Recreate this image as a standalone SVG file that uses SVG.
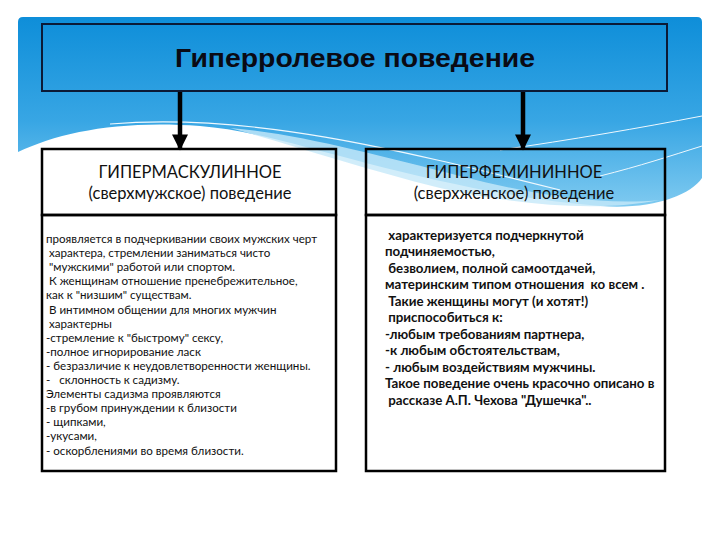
<svg xmlns="http://www.w3.org/2000/svg" width="720" height="540" viewBox="0 0 720 540">
<defs>
<linearGradient id="sky" x1="0" y1="0" x2="0" y2="1">
<stop offset="0" stop-color="#0e8ed9"/>
<stop offset="0.55" stop-color="#38a6e4"/>
<stop offset="1" stop-color="#7fcaf0"/>
</linearGradient>
<marker id="arr" viewBox="0 0 10 10" refX="9" refY="5" markerWidth="3.6" markerHeight="3.6" orient="auto" markerUnits="strokeWidth">
<path d="M0,0 L10,5 L0,10 Z" fill="#000"/>
</marker>
<style>
.box{fill:#fff;stroke:#000;stroke-width:2.5}
.hbox{fill:none;stroke:#000;stroke-width:2.5}
.title{font-family:"Liberation Sans",Arial,sans-serif;font-weight:bold;font-size:26px;fill:#0a0a14}
.head{font-family:"Lato","Open Sans",sans-serif;font-size:16.5px;fill:#111}
.lt{font-family:"Lato","Liberation Sans",sans-serif;font-size:11.6px;fill:#111}
.rt{font-family:"Lato","Liberation Sans",sans-serif;font-size:13.3px;font-weight:bold;fill:#111}
.conn{stroke:#000;stroke-width:4.5;fill:none}
</style>
</defs>
<g id="background">
<rect width="720" height="540" fill="#fff"/>
<path d="M18,22 Q18,17 23,17 L697,17 Q702,17 702,22 L702,178 C690,196 650,210 600,206 C520,200 440,182 366,163 C300,146 250,130 200,126 C120,120 60,132 18,152 Z" fill="url(#sky)"/>
<path d="M230,128 C300,134 380,156 460,176 C530,194 600,206 660,200 C600,212 520,206 440,188 C360,168 290,144 230,128 Z" fill="#c6e8f9" opacity="0.8"/>
<path d="M110,124 C250,112 400,150 560,190" stroke="#eef8fe" stroke-width="1.2" fill="none"/>
<path d="M500,150 C570,140 640,128 702,116" stroke="#eef8fe" stroke-width="1" fill="none"/>
<path d="M600,176 C640,166 670,156 702,146" stroke="#eef8fe" stroke-width="1" fill="none"/>
</g>
<g id="connectors">
<line class="conn" x1="180" y1="92" x2="180" y2="149" marker-end="url(#arr)"/>
<line class="conn" x1="523" y1="92" x2="523" y2="149" marker-end="url(#arr)"/>
</g>
<g id="node-top">
<rect x="42" y="24" width="625" height="67" fill="none" stroke="#0b1a36" stroke-width="2"/>
<text class="title" x="355" y="67" text-anchor="middle" textLength="360" lengthAdjust="spacingAndGlyphs">Гиперролевое поведение</text>
</g>
<g id="node-left">
<rect class="box" x="42" y="215" width="294" height="256"/>
<rect class="hbox" x="42" y="149" width="294" height="66"/>
<text class="head" x="190" y="178" text-anchor="middle">ГИПЕРМАСКУЛИННОЕ</text>
<text class="head" x="190" y="199" text-anchor="middle">(сверхмужское) поведение</text>
<text class="lt" xml:space="preserve"><tspan x="46" y="243">проявляется в подчеркивании своих мужских черт</tspan><tspan x="46" y="257.1"> характера, стремлении заниматься чисто</tspan><tspan x="46" y="271.2"> "мужскими" работой или спортом.</tspan><tspan x="46" y="285.3"> К женщинам отношение пренебрежительное,</tspan><tspan x="46" y="299.4">как к "низшим" существам.</tspan><tspan x="46" y="313.5"> В интимном общении для многих мужчин</tspan><tspan x="46" y="327.6"> характерны</tspan><tspan x="46" y="341.7">-стремление к "быстрому" сексу,</tspan><tspan x="46" y="355.8">-полное игнорирование ласк</tspan><tspan x="46" y="369.9">- безразличие к неудовлетворенности женщины.</tspan><tspan x="46" y="384">-   склонность к садизму.</tspan><tspan x="46" y="398.1">Элементы садизма проявляются</tspan><tspan x="46" y="412.2">-в грубом принуждении к близости</tspan><tspan x="46" y="426.3">- щипками,</tspan><tspan x="46" y="440.4">-укусами,</tspan><tspan x="46" y="454.5">- оскорблениями во время близости.</tspan></text>
</g>
<g id="node-right">
<rect class="box" x="366" y="215" width="299" height="256"/>
<rect class="hbox" x="366" y="149" width="299" height="66"/>
<text class="head" x="514" y="178" text-anchor="middle">ГИПЕРФЕМИНИННОЕ</text>
<text class="head" x="514" y="199" text-anchor="middle">(сверхженское) поведение</text>
<text class="rt" xml:space="preserve"><tspan x="385" y="239.5"> характеризуется подчеркнутой</tspan><tspan x="385" y="256">подчиняемостью,</tspan><tspan x="385" y="272.5"> безволием, полной самоотдачей,</tspan><tspan x="385" y="289">материнским типом отношения  ко всем .</tspan><tspan x="385" y="305.5"> Такие женщины могут (и хотят!)</tspan><tspan x="385" y="322"> приспособиться к:</tspan><tspan x="385" y="338.5">-любым требованиям партнера,</tspan><tspan x="385" y="355">-к любым обстоятельствам,</tspan><tspan x="385" y="371.5">- любым воздействиям мужчины.</tspan><tspan x="385" y="388">Такое поведение очень красочно описано в</tspan><tspan x="385" y="404.5"> рассказе А.П. Чехова "Душечка"..</tspan></text>
</g>
</svg>
